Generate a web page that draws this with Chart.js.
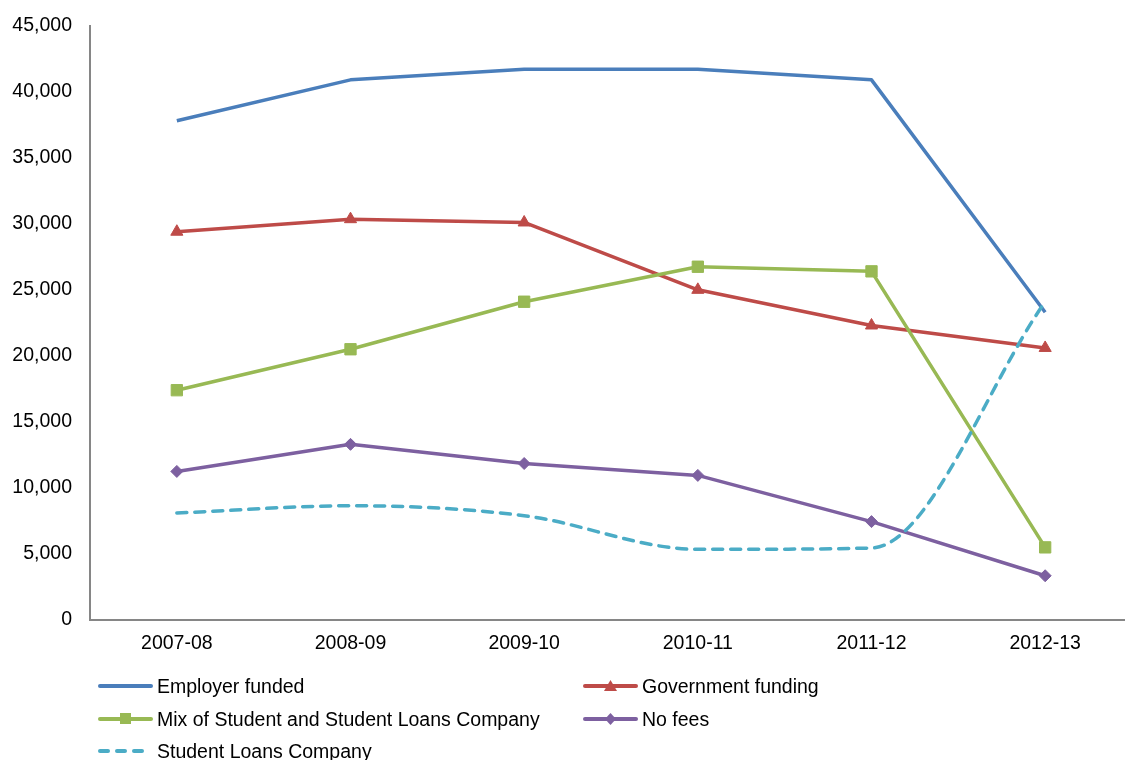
<!DOCTYPE html>
<html>
<head>
<meta charset="utf-8">
<title>Funding source by year</title>
<script src="https://cdn.jsdelivr.net/npm/chart.js@4.4.1/dist/chart.umd.min.js"></script>
<style>
    html, body { margin: 0; padding: 0; background: #fff; overflow: hidden; }
    #wrap { position: relative; width: 1125px; height: 760px; overflow: hidden; }
    #chart { position: absolute; left: 0; top: -4px; }
    .lg-item { position: absolute; height: 30px; white-space: nowrap;
               font: 19.5px "Liberation Sans", Arial, sans-serif; color: #000; }
    .lg-sym { position: absolute; left: 0; top: 0; width: 55px; height: 30px; }
    .lg-line { position: absolute; left: 0; top: 13.25px; width: 55px; height: 3.5px; border-radius: 2px; }
    .lg-text { position: absolute; left: 59px; top: 0; line-height: 30px; }
    .lg-mark { position: absolute; }
</style>
</head>
<body>
<div id="wrap">
    <canvas id="chart" width="1141" height="764"></canvas>
    <div id="legend"></div>
</div>
<script>
// Categories and values
const categories = ['2007-08', '2008-09', '2009-10', '2010-11', '2011-12', '2012-13'];

const employerFunded    = [37800, 40900, 41700, 41700, 40900, 23300];
const governmentFunding = [29400, 30350, 30100, 25000, 22300, 20600];
const mixStudentSlc     = [17400, 20500, 24100, 26750, 26400, 5500];
const noFees            = [11250, 13300, 11850, 10950, 7450, 3350];
const studentLoans      = [8100, 8650, 7900, 5350, 5450, 24100];

const yMin = 0;
const yMax = 45000;
const yStep = 5000;

const seriesNames = [
    'Employer funded',
    'Government funding',
    'Mix of Student and Student Loans Company',
    'No fees',
    'Student Loans Company'
];
const seriesValues = [employerFunded, governmentFunding, mixStudentSlc, noFees, studentLoans];

// Look of each series
const styles = [
    { color: '#4A7EBB', marker: false },
    { color: '#BE4B48', marker: 'triangle', radius: 7 },
    { color: '#98B954', marker: 'rect', radius: 8 },
    { color: '#7D60A0', marker: 'rectRot', radius: 6 },
    { color: '#4BACC6', marker: false, dash: [10, 8], smooth: true }
];

const FONT = '"Liberation Sans", Arial, sans-serif';
const AXIS_GREY = '#868686';

const datasets = seriesNames.map((name, i) => {
    const s = styles[i];
    return {
        label: name,
        data: seriesValues[i],
        borderColor: s.color,
        backgroundColor: s.color,
        borderWidth: 3.5,
        borderDash: s.dash || [],
        borderCapStyle: s.dash ? 'round' : 'butt',
        borderJoinStyle: 'round',
        tension: s.smooth ? 0.4 : 0,
        cubicInterpolationMode: s.smooth ? 'monotone' : 'default',
        pointStyle: s.marker || 'circle',
        pointRadius: s.marker ? s.radius : 0,
        pointHoverRadius: s.marker ? s.radius : 0,
        pointBorderWidth: 1,
        order: seriesNames.length - i // later series drawn on top, like the original
    };
});

new Chart(document.getElementById('chart').getContext('2d'), {
    type: 'line',
    data: { labels: categories, datasets: datasets },
    options: {
        responsive: false,
        animation: false,
        devicePixelRatio: 1,
        layout: { padding: { top: 0, left: 0, right: 2, bottom: 0 } },
        plugins: {
            legend: { display: false },
            tooltip: { enabled: false }
        },
        scales: {
            x: {
                offset: true,
                grid: { display: false, drawTicks: false },
                border: { display: true, color: AXIS_GREY, width: 2 },
                ticks: { color: '#000', padding: 12, font: { family: FONT, size: 19.5 } },
                afterFit: scale => { scale.height = 140; }
            },
            y: {
                min: yMin,
                max: yMax,
                grid: { display: false, drawTicks: false },
                border: { display: true, color: AXIS_GREY, width: 2 },
                ticks: {
                    stepSize: yStep,
                    color: '#000',
                    padding: 18,
                    font: { family: FONT, size: 19.5 },
                    callback: v => v.toLocaleString('en-US')
                },
                afterFit: scale => { scale.width = 90; }
            }
        }
    }
});

// Legend below the chart, two columns like the original
const legendSlots = [
    { left: 98, top: 671 }, { left: 583, top: 671 },
    { left: 98, top: 704 }, { left: 583, top: 704 },
    { left: 98, top: 736 }
];

function markerHtml(marker, color) {
    if (marker === 'triangle') {
        return `<div class="lg-mark" style="left:21px;top:9px;width:13px;height:11px;background:${color};clip-path:polygon(50% 0,100% 100%,0 100%);"></div>`;
    }
    if (marker === 'rect') {
        return `<div class="lg-mark" style="left:22px;top:9px;width:11px;height:11px;background:${color};"></div>`;
    }
    if (marker === 'rectRot') {
        return `<div class="lg-mark" style="left:22px;top:9px;width:11px;height:12px;background:${color};clip-path:polygon(50% 0,100% 50%,50% 100%,0 50%);"></div>`;
    }
    return '';
}

const legend = document.getElementById('legend');
seriesNames.forEach((name, i) => {
    const s = styles[i];
    const slot = legendSlots[i];
    const item = document.createElement('div');
    item.className = 'lg-item';
    item.style.left = slot.left + 'px';
    item.style.top = slot.top + 'px';

    let line;
    if (s.dash) {
        line = '';
        for (let k = 0; k < 3; k++) {
            line += `<div class="lg-line" style="left:${k * 17}px;width:12px;background:${s.color};"></div>`;
        }
    } else {
        line = `<div class="lg-line" style="background:${s.color};"></div>`;
    }

    item.innerHTML = `
        <div class="lg-sym">${line}${markerHtml(s.marker, s.color)}</div>
        <div class="lg-text">${name}</div>
    `;
    legend.appendChild(item);
});
</script>
</body>
</html>
